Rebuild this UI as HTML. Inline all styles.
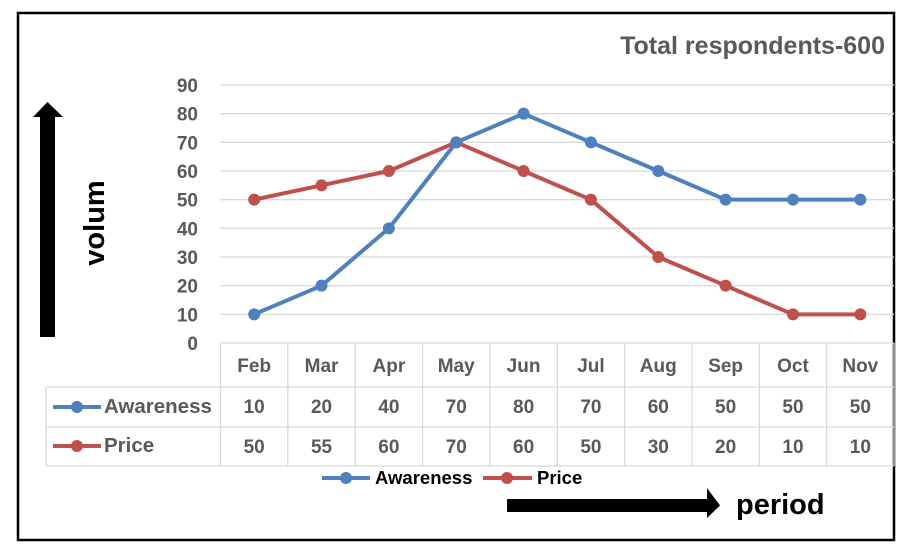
<!DOCTYPE html>
<html><head><meta charset="utf-8"><style>
body{margin:0;background:#fff;}
svg text{font-family:"Liberation Sans",Calibri,sans-serif;}
</style></head><body>
<svg width="911" height="552" xmlns="http://www.w3.org/2000/svg" id="chart">
<rect x="0" y="0" width="911" height="552" fill="#fff"/>
<rect x="18" y="13" width="876" height="527" fill="none" stroke="#000" stroke-width="2.5"/>
<text x="885" y="54" text-anchor="end" font-size="25" font-weight="bold" fill="#595959">Total respondents-600</text>
<g id="grid"></g><g id="yticks"></g><g id="table"></g><g id="series"></g>
<polygon points="40,337 55,337 55,117 63,117 47.5,102 33,117 40,117" fill="#000"/>
<text transform="translate(104,223) rotate(-90)" text-anchor="middle" font-size="29" font-weight="bold" fill="#000">volum</text>
<polygon points="507,499 707,499 707,488 720,505.5 707,518 707,512 507,512" fill="#000"/>
<text x="736" y="514" font-size="29" font-weight="bold" fill="#000">period</text>
<g>
<line x1="322" y1="478" x2="370" y2="478" stroke="#4F81BD" stroke-width="4"/>
<circle cx="346" cy="478" r="6" fill="#4F81BD"/>
<text x="375" y="484" font-size="18.5" font-weight="bold" fill="#000">Awareness</text>
<line x1="483" y1="478" x2="532" y2="478" stroke="#C0504D" stroke-width="4"/>
<circle cx="507" cy="478" r="6" fill="#C0504D"/>
<text x="537" y="484" font-size="18.5" font-weight="bold" fill="#000">Price</text>
</g>
</svg>
<script>
const categories=["Feb","Mar","Apr","May","Jun","Jul","Aug","Sep","Oct","Nov"];
const awareness=[10,20,40,70,80,70,60,50,50,50];
const price=[50,55,60,70,60,50,30,20,10,10];
const yTicks=[0,10,20,30,40,50,60,70,80,90];
const NS="http://www.w3.org/2000/svg";
const L=220.5,R=894,T=85,B=343,yMax=90;
const bw=(R-L)/categories.length;
const x=i=>L+bw*(i+0.5);
const y=v=>B-(v/yMax)*(B-T);
function mk(tag,attrs,parent,txt){const e=document.createElementNS(NS,tag);for(const k in attrs)e.setAttribute(k,attrs[k]);if(txt!==undefined)e.textContent=txt;document.getElementById(parent).appendChild(e);return e;}
yTicks.forEach(t=>{
  if(t>0){const g=mk('line',{x1:L,x2:R,y1:y(t),y2:y(t),stroke:'#D9D9D9','stroke-width':1.3},'grid');
  
  }
  const tx=mk('text',{x:198,y:y(t)+7,'text-anchor':'end','font-size':19,'font-weight':'bold',fill:'#595959'},'yticks',String(t));
  
  
});
const rows=[343,387,427,466];
const gc='#D9D9D9';
[[L,R,rows[0]],[46,R,rows[1]],[46,R,rows[2]],[46,R,rows[3]]].forEach(([a,b,yy])=>{
  const l=mk('line',{x1:a,x2:b,y1:yy,y2:yy,stroke:gc,'stroke-width':1.3},'table');
  
  
});
const v0=mk('line',{x1:46,x2:46,y1:rows[1],y2:rows[3],stroke:gc,'stroke-width':1.3},'table');


for(let i=0;i<=categories.length;i++){
  const l=mk('line',{x1:L+bw*i,x2:L+bw*i,y1:rows[0],y2:rows[3],stroke:gc,'stroke-width':1.3},'table');
  
  
}
categories.forEach((c,i)=>{
  const t=mk('text',{x:x(i),y:372,'text-anchor':'middle','font-size':19,'font-weight':'bold',fill:'#595959'},'table',c);
  
  
  const a=mk('text',{x:x(i),y:413,'text-anchor':'middle','font-size':19,'font-weight':'bold',fill:'#595959'},'table',String(awareness[i]));
  
  
  const p=mk('text',{x:x(i),y:453,'text-anchor':'middle','font-size':19,'font-weight':'bold',fill:'#595959'},'table',String(price[i]));
  
  
});
[['Awareness','#4F81BD',407],['Price','#C0504D',446]].forEach(([n,c,yy])=>{
  const l=mk('line',{x1:53,x2:101,y1:yy,y2:yy,stroke:c,'stroke-width':4},'table');
  
  
  const m=mk('circle',{cx:77,cy:yy,r:6,fill:c},'table');
  
  
  const t=mk('text',{x:104,y:yy+6,'font-size':20.5,'font-weight':'bold',fill:'#595959'},'table',n);
  
  
});
function series(vals,color,name){
  const pl=mk('polyline',{points:vals.map((v,i)=>x(i)+','+y(v)).join(' '),fill:'none',stroke:color,'stroke-width':4,'stroke-linejoin':'round'},'series');
  
  
  vals.forEach((v,i)=>{
    const c=mk('circle',{cx:x(i),cy:y(v),r:6,fill:color},'series');
    
    
  });
}
series(price,'#C0504D','price');
series(awareness,'#4F81BD','awareness');
</script>
</body></html>
